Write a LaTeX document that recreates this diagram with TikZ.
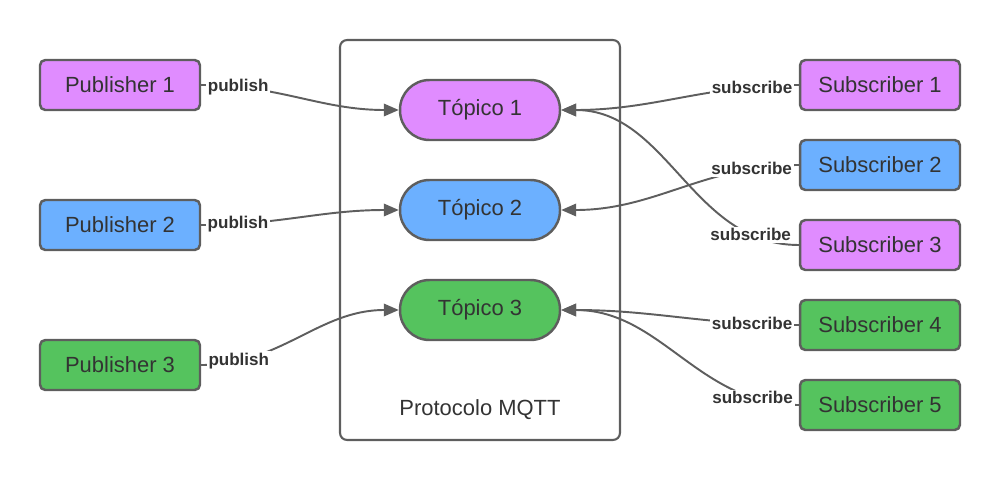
\documentclass[tikz,border=0pt]{standalone}
\usepackage{fontspec}
\setmainfont{Liberation Sans}
\usetikzlibrary{arrows.meta}

\definecolor{linegrey}{HTML}{5E5E5E}
\definecolor{textgrey}{HTML}{333333}
\definecolor{pubviolet}{HTML}{E08CFF}
\definecolor{pubblue}{HTML}{6CB0FF}
\definecolor{pubgreen}{HTML}{55C35E}

\begin{document}
\begin{tikzpicture}[x=0.02cm, y=-0.02cm,
  every node/.style={font=\fontsize{12.5}{15}\selectfont, text=textgrey},
  client/.style={draw=linegrey, line width=1.4pt, rounded corners=3pt,
    minimum width=3.2cm, minimum height=1cm},
  topic/.style={draw=linegrey, line width=1.4pt, rounded corners=0.59cm,
    minimum width=3.2cm, minimum height=1.2cm},
  link/.style={draw=linegrey, line width=1.1pt,
    -{Triangle[length=0.3cm, width=0.25cm]}},
  tag/.style={fill=white, inner sep=1pt,
    font=\fontsize{9.7}{11}\selectfont\bfseries}]

\useasboundingbox (0,0) rectangle (1000,480);

% MQTT box
\node[draw=linegrey, line width=1.2pt, rounded corners=4pt,
  minimum width=5.6cm, minimum height=8cm] (mqtt) at (480,240) {};
\node (mqttlabel) at (480,410) {Protocolo MQTT};

% Topics
\node[topic, fill=pubviolet] (top1) at (480,110) {Tópico 1};
\node[topic, fill=pubblue]   (top2) at (480,210) {Tópico 2};
\node[topic, fill=pubgreen]  (top3) at (480,310) {Tópico 3};

% Publishers
\node[client, fill=pubviolet] (pub1) at (120,85)  {Publisher 1};
\node[client, fill=pubblue]   (pub2) at (120,225) {Publisher 2};
\node[client, fill=pubgreen]  (pub3) at (120,365) {Publisher 3};

% Subscribers
\node[client, fill=pubviolet] (sub1) at (880,85)  {Subscriber 1};
\node[client, fill=pubblue]   (sub2) at (880,165) {Subscriber 2};
\node[client, fill=pubviolet] (sub3) at (880,245) {Subscriber 3};
\node[client, fill=pubgreen]  (sub4) at (880,325) {Subscriber 4};
\node[client, fill=pubgreen]  (sub5) at (880,405) {Subscriber 5};

% publish arrows
\draw[link] (pub1.east) to[out=0, in=180] node[tag, pos=0.17] {publish} (top1.west);
\draw[link] (pub2.east) to[out=0, in=180] node[tag, pos=0.17] {publish} (top2.west);
\draw[link] (pub3.east) to[out=0, in=180] node[tag, pos=0.17] {publish} (top3.west);

% subscribe arrows
\draw[link] (sub1.west) to[out=180, in=0] node[tag, pos=0.18] {subscribe} (top1.east);
\draw[link] (sub2.west) to[out=180, in=0] node[tag, pos=0.18] {subscribe} (top2.east);
\draw[link] (sub3.west) to[out=180, in=0] node[tag, pos=0.17] {subscribe} (top1.east);
\draw[link] (sub4.west) to[out=180, in=0] node[tag, pos=0.18] {subscribe} (top3.east);
\draw[link] (sub5.west) to[out=180, in=0] node[tag, pos=0.17] {subscribe} (top3.east);

\end{tikzpicture}
\end{document}
